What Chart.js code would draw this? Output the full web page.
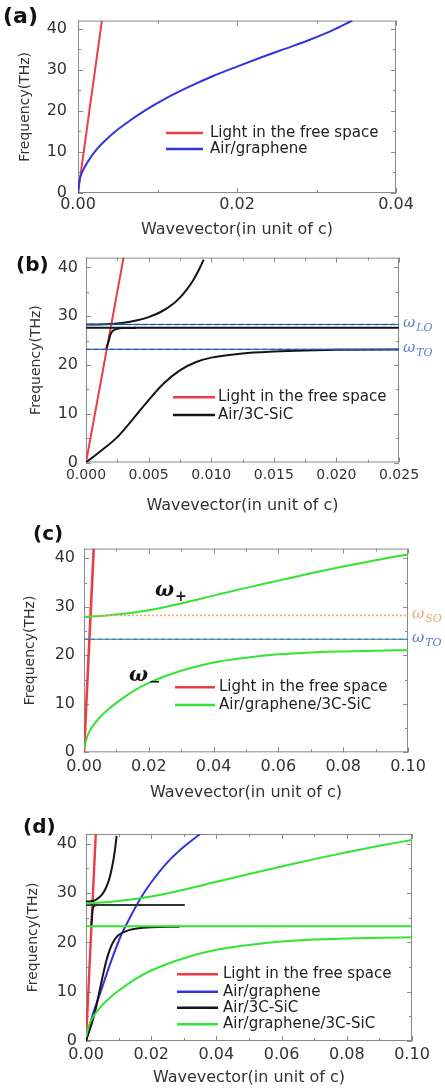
<!DOCTYPE html>
<html>
<head>
<meta charset="utf-8">
<script src="https://cdn.jsdelivr.net/npm/chart.js@4.4.0/dist/chart.umd.min.js"></script>
<style>
  body { margin: 0; background: #fff; width: 445px; height: 1090px; position: relative; overflow: hidden; }
  canvas { position: absolute; left: 0; }
</style>
</head>
<body>
<canvas id="pa" width="445" height="240" style="top:0px"></canvas>
<canvas id="pb" width="445" height="280" style="top:240px"></canvas>
<canvas id="pc" width="445" height="285" style="top:520px"></canvas>
<canvas id="pd" width="445" height="285" style="top:805px"></canvas>
<script>
// light line in the free space
const lightK = [0, 0.003];
const lightW = [0, 42];

// Air/graphene, panel (a)
const grapheneAK = [0, 0.0002, 0.0006, 0.0012, 0.002, 0.003, 0.0045, 0.0065, 0.0085, 0.011, 0.014, 0.017, 0.020, 0.023, 0.026, 0.029, 0.032, 0.0345];
const grapheneAW = [0, 3.2, 5.4, 7.5, 9.8, 12.0, 14.7, 17.6, 20.2, 23.0, 25.9, 28.5, 30.8, 33.0, 35.1, 37.2, 39.6, 42.0];

// Air/graphene, panel (d)
const grapheneDK = [0, 0.0014, 0.0045, 0.0076, 0.0106, 0.0137, 0.0167, 0.0198, 0.0249, 0.030, 0.035];
const grapheneDW = [0, 3.9, 10.0, 16.0, 21.2, 25.3, 28.9, 32.0, 36.2, 39.4, 42.0];

// Air/3C-SiC branches
const sicLowK = [0, 0.001, 0.0025, 0.00375, 0.005, 0.0062, 0.0075, 0.0088, 0.010, 0.0125, 0.015, 0.0175, 0.020, 0.0287];
const sicLowW = [0, 2.0, 5.2, 8.9, 12.8, 16.2, 18.9, 20.6, 21.5, 22.35, 22.75, 22.98, 23.1, 23.2];
const sicMidK = [0.0016, 0.0018, 0.0019, 0.002, 0.0022, 0.0025, 0.003, 0.004];
const sicMidW = [23.2, 24.8, 25.8, 26.5, 27.1, 27.4, 27.55, 27.6];
const sicUpK = [0, 0.001, 0.002, 0.003, 0.004, 0.005, 0.006, 0.007, 0.0075, 0.008, 0.0085, 0.009, 0.0094];
const sicUpW = [28.3, 28.3, 28.4, 28.65, 29.1, 29.8, 30.9, 32.6, 33.8, 35.3, 37.1, 39.4, 41.6];
const sicFlatK = [0, 0.0303];
const sicFlatW = [27.6, 27.6];

// Air/graphene/3C-SiC branches
const hybUpK = [0, 0.005, 0.01, 0.02, 0.03, 0.04, 0.05, 0.06, 0.07, 0.08, 0.09, 0.10];
const hybUpW = [27.9, 28.1, 28.4, 29.3, 30.7, 32.3, 33.9, 35.4, 36.9, 38.3, 39.6, 40.8];
const hybLowK = [0, 0.001, 0.0025, 0.005, 0.0075, 0.01, 0.015, 0.02, 0.03, 0.04, 0.05, 0.06, 0.07, 0.08, 0.09, 0.10];
const hybLowW = [0.8, 3.3, 5.2, 7.3, 8.9, 10.2, 12.5, 14.3, 16.8, 18.5, 19.5, 20.2, 20.6, 20.8, 20.95, 21.05];

// phonon frequencies (THz)
const wLO = 28.3;
const wTO = 23.2;
const wSO = 28.2;
const wTOc = 23.3;

const FONT = '"DejaVu Sans", sans-serif';
const RED = '#ec3d46', BLUE = '#3434dc', BLACK = '#151515', GREEN = '#33e433';

function pts(k, w) {
  return k.map((v, i) => ({ x: v, y: w[i] }));
}
function curve(k, w, color, width, dash) {
  return {
    data: pts(k, w), borderColor: color, borderWidth: width || 2, borderDash: dash || [],
    showLine: true, pointRadius: 0, cubicInterpolationMode: 'monotone', fill: false
  };
}
function flat(w, kMax, color, width, dash) {
  return curve([0, kMax], [w, w], color, width, dash);
}

function omega(ctx, x, y, sub, color, size, bold) {
  const b = bold ? 'bold ' : '';
  ctx.fillStyle = color;
  ctx.textAlign = 'left';
  ctx.textBaseline = 'middle';
  ctx.font = b + 'italic ' + size + 'px "DejaVu Serif"';
  ctx.fillText('ω', x, y);
  const w = ctx.measureText('ω').width;
  ctx.font = b + 'italic ' + Math.round(size * 0.72) + 'px "DejaVu Serif"';
  ctx.fillText(sub, x + w + 1, y + size * 0.32);
}

function makePanel(p) {
  const W = 445, H = p.h;
  const extras = {
    id: 'extras',
    beforeDatasetsDraw(chart) {
      const { ctx, chartArea: a, scales: { x, y } } = chart;
      ctx.save();
      ctx.strokeStyle = '#8a8a8a';
      ctx.lineWidth = 1;
      ctx.strokeRect(a.left + 0.5, a.top + 0.5, a.right - a.left - 1, a.bottom - a.top - 1);
      const marks = (s) => {
        const t = s.ticks.map(tk => tk.value);
        const step = t[1] - t[0];
        const out = t.map(v => [v, 5]);
        for (let v = t[0] + step / 2; v <= s.max + 1e-9; v += step) out.push([v, 3]);
        return out;
      };
      ctx.beginPath();
      marks(x).forEach(([v, len]) => {
        const px = Math.round(x.getPixelForValue(v)) + 0.5;
        ctx.moveTo(px, a.bottom); ctx.lineTo(px, a.bottom - len);
        ctx.moveTo(px, a.top); ctx.lineTo(px, a.top + len);
      });
      marks(y).forEach(([v, len]) => {
        const py = Math.round(y.getPixelForValue(v)) + 0.5;
        ctx.moveTo(a.left, py); ctx.lineTo(a.left + len, py);
        ctx.moveTo(a.right, py); ctx.lineTo(a.right - len, py);
      });
      ctx.stroke();
      ctx.restore();
    },
    afterDraw(chart) {
      const { ctx, chartArea: a, scales: { x, y } } = chart;
      ctx.save();
      // legend
      const L = p.legend;
      L.items.forEach((it, i) => {
        const ry = L.rows[i];
        ctx.strokeStyle = it[1];
        ctx.lineWidth = 2.5;
        ctx.beginPath(); ctx.moveTo(L.x0, ry); ctx.lineTo(L.x1, ry); ctx.stroke();
        ctx.fillStyle = '#222';
        ctx.font = '15px ' + FONT;
        ctx.textAlign = 'left';
        ctx.textBaseline = 'middle';
        ctx.fillText(it[0], L.tx, ry);
      });
      // panel label
      ctx.fillStyle = '#111';
      ctx.font = 'bold ' + p.tag[3] + 'px ' + FONT;
      ctx.textAlign = 'left';
      ctx.textBaseline = 'middle';
      ctx.fillText(p.tag[0], p.tag[1], p.tag[2]);
      // phonon labels on the right
      (p.right || []).forEach(r => {
        omega(ctx, a.right + 4, y.getPixelForValue(r[1]) - 1, r[0], r[2], 15, false);
      });
      // branch labels
      (p.branch || []).forEach(b => {
        omega(ctx, x.getPixelForValue(b[1]), y.getPixelForValue(b[2]), b[0], '#111', 20, true);
      });
      ctx.restore();
    }
  };

  new Chart(document.getElementById(p.id), {
    type: 'scatter',
    data: { datasets: p.datasets },
    options: {
      responsive: false,
      animation: false,
      layout: { autoPadding: false, padding: { left: 0, top: p.area[2], right: W - p.area[1], bottom: 0 } },
      plugins: { legend: { display: false }, tooltip: { enabled: false } },
      scales: {
        x: {
          type: 'linear', min: 0, max: p.xMax,
          grid: { display: false, drawTicks: false },
          border: { display: false },
          afterFit(s) { s.height = H - p.area[3]; },
          ticks: {
            stepSize: p.xStep, padding: p.xTickPad, color: '#333', maxRotation: 0,
            font: { family: FONT, size: p.xFont },
            callback: v => Number(v).toFixed(p.xDec)
          },
          title: {
            display: true, text: 'Wavevector(in unit of c)', color: '#333',
            font: { family: FONT, size: 16 }, padding: { top: 0, bottom: p.xTitlePad }
          }
        },
        y: {
          type: 'linear', min: 0, max: 42,
          grid: { display: false, drawTicks: false },
          border: { display: false },
          afterFit(s) { s.width = p.area[0]; },
          ticks: {
            stepSize: 10, includeBounds: false, padding: p.yTickPad, color: '#333',
            font: { family: FONT, size: 16 }
          },
          title: {
            display: true, text: 'Frequency(THz)', color: '#333',
            font: { family: FONT, size: 14 }, padding: { top: p.yTitlePad, bottom: 0 }
          }
        }
      }
    },
    plugins: [extras]
  });
}

// (a)
makePanel({
  id: 'pa', h: 240, area: [78, 396, 9, 193],
  xMax: 0.04, xStep: 0.02, xDec: 2, xFont: 16, xTickPad: 2, xTitlePad: 1, yTickPad: 11, yTitlePad: 17,
  datasets: [
    curve(grapheneAK, grapheneAW, BLUE, 2),
    curve(lightK, lightW, RED, 2)
  ],
  legend: { x0: 166, x1: 203, tx: 210, rows: [133, 149],
    items: [['Light in the free space', RED], ['Air/graphene', BLUE]] },
  tag: ['(a)', 3, 17.5, 22]
});

// (b)
makePanel({
  id: 'pb', h: 280, area: [86, 399, 12, 222.5],
  xMax: 0.025, xStep: 0.005, xDec: 3, xFont: 14, xTickPad: 4, xTitlePad: 5, yTickPad: 8, yTitlePad: 28,
  datasets: [
    flat(wLO, 0.025, '#1d4f9a', 1),
    flat(wLO, 0.025, '#55a8ee', 1.6, [5, 3]),
    flat(wTO, 0.025, '#1d4f9a', 1),
    flat(wTO, 0.025, '#55a8ee', 1.6, [5, 3]),
    curve(sicFlatK, sicFlatW, BLACK, 2),
    curve(sicLowK, sicLowW, BLACK, 2),
    curve(sicMidK, sicMidW, BLACK, 2),
    curve(sicUpK, sicUpW, BLACK, 2),
    curve(lightK, lightW, RED, 2)
  ],
  legend: { x0: 173, x1: 215, tx: 218, rows: [157.3, 175],
    items: [['Light in the free space', RED], ['Air/3C-SiC', BLACK]] },
  tag: ['(b)', 16, 26, 20],
  right: [['LO', wLO, '#5b7fc9'], ['TO', wTO, '#5b7fc9']]
});

// (c)
makePanel({
  id: 'pc', h: 285, area: [84, 408, 28.6, 232.3],
  xMax: 0.1, xStep: 0.02, xDec: 2, xFont: 16, xTickPad: 5, xTitlePad: 3, yTickPad: 9, yTitlePad: 22,
  datasets: [
    flat(wSO, 0.1, '#f2a36e', 1.6, [2, 2]),
    flat(wTOc, 0.1, '#3a6fc0', 1),
    flat(wTOc, 0.1, '#3ccf6a', 1.6, [4, 3]),
    curve(hybUpK, hybUpW, GREEN, 2),
    curve(hybLowK, hybLowW, GREEN, 2),
    curve(lightK, lightW, RED, 2.6)
  ],
  legend: { x0: 175, x1: 215, tx: 219, rows: [167.3, 185],
    items: [['Light in the free space', RED], ['Air/graphene/3C-SiC', GREEN]] },
  tag: ['(c)', 33, 15, 20],
  right: [['SO', wSO, '#f2a36e'], ['TO', wTOc, '#5b7fc9']],
  branch: [['+', 0.0219, 33.2], ['−', 0.0139, 15.7]]
});

// (d)
makePanel({
  id: 'pd', h: 285, area: [86, 412, 29, 236],
  xMax: 0.1, xStep: 0.02, xDec: 2, xFont: 16, xTickPad: 4, xTitlePad: 2.4, yTickPad: 9, yTitlePad: 24.6,
  datasets: [
    flat(wTOc, 0.1, GREEN, 2),
    curve(hybUpK, hybUpW, GREEN, 2),
    curve(hybLowK, hybLowW, GREEN, 2),
    curve(sicFlatK, sicFlatW, '#333', 2),
    curve(sicLowK, sicLowW, BLACK, 2),
    curve(sicMidK, sicMidW, BLACK, 2),
    curve(sicUpK, sicUpW, BLACK, 2),
    curve(grapheneDK, grapheneDW, BLUE, 2),
    curve(lightK, lightW, RED, 2.4)
  ],
  legend: { x0: 177, x1: 218, tx: 223, rows: [169.3, 186.7, 202.7, 219.3],
    items: [['Light in the free space', RED], ['Air/graphene', BLUE], ['Air/3C-SiC', BLACK], ['Air/graphene/3C-SiC', GREEN]] },
  tag: ['(d)', 23, 22.5, 20]
});
</script>
</body>
</html>
